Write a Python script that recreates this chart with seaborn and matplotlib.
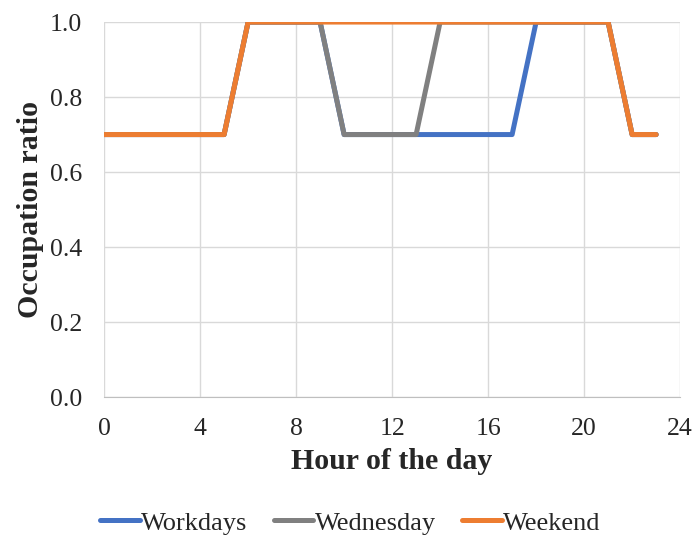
import matplotlib
matplotlib.use("Agg")
import matplotlib.pyplot as plt
import seaborn as sns
import pandas as pd
from matplotlib.lines import Line2D

hours = list(range(24))
workdays = [0.7]*6 + [1.0]*4 + [0.7]*8 + [1.0]*4 + [0.7]*2
wednesday = [0.7]*6 + [1.0]*4 + [0.7]*4 + [1.0]*8 + [0.7]*2
weekend = [0.7]*6 + [1.0]*16 + [0.7]*2
series_names = ["Workdays", "Wednesday", "Weekend"]
colors = ["#4472C4", "#808080", "#ED7D31"]
xticks = [0, 4, 8, 12, 16, 20, 24]
yticks = [0, 0.2, 0.4, 0.6, 0.8, 1.0]
ytick_labels = ["0.0", "0.2", "0.4", "0.6", "0.8", "1.0"]

df = pd.DataFrame({
    "hour": hours * 3,
    "value": workdays + wednesday + weekend,
    "series": [series_names[0]]*24 + [series_names[1]]*24 + [series_names[2]]*24,
})

sns.set_style("white")
plt.rcParams['font.family'] = ['Liberation Serif', 'DejaVu Serif']

fig = plt.figure(figsize=(6.94, 5.38), dpi=100)
ax = fig.add_axes([0.150, 0.262, 0.830, 0.697])
sns.lineplot(data=df, x="hour", y="value", hue="series", palette=colors,
             hue_order=series_names, linewidth=3.6, ax=ax, legend=False)

ax.set_xlim(0, 24)
ax.set_ylim(0, 1.0)
ax.set_xticks(xticks)
ax.set_yticks(yticks)
ax.set_yticklabels(ytick_labels)
ax.tick_params(labelsize=18.5, length=0)
ax.tick_params(axis="x", pad=15)
ax.tick_params(axis="y", pad=16)
ax.grid(True, color="#D9D9D9", linewidth=1)
ax.set_axisbelow(True)
for s in ["top", "right", "left"]:
    ax.spines[s].set_visible(False)
ax.spines["bottom"].set_color("#BFBFBF")
ax.set_xlabel("Hour of the day", fontsize=21.5, fontweight="bold", labelpad=6)
ax.set_ylabel("Occupation ratio", fontsize=21.5, fontweight="bold", labelpad=4)

handles = [Line2D([0], [0], color=c, linewidth=3.6) for c in colors]
fig.legend(handles, series_names, loc="center", bbox_to_anchor=(0.505, 0.028),
           ncol=3, frameon=False, fontsize=19, handlelength=1.5,
           handletextpad=0.05, columnspacing=1.0)

fig.savefig("out.png", dpi=100)
